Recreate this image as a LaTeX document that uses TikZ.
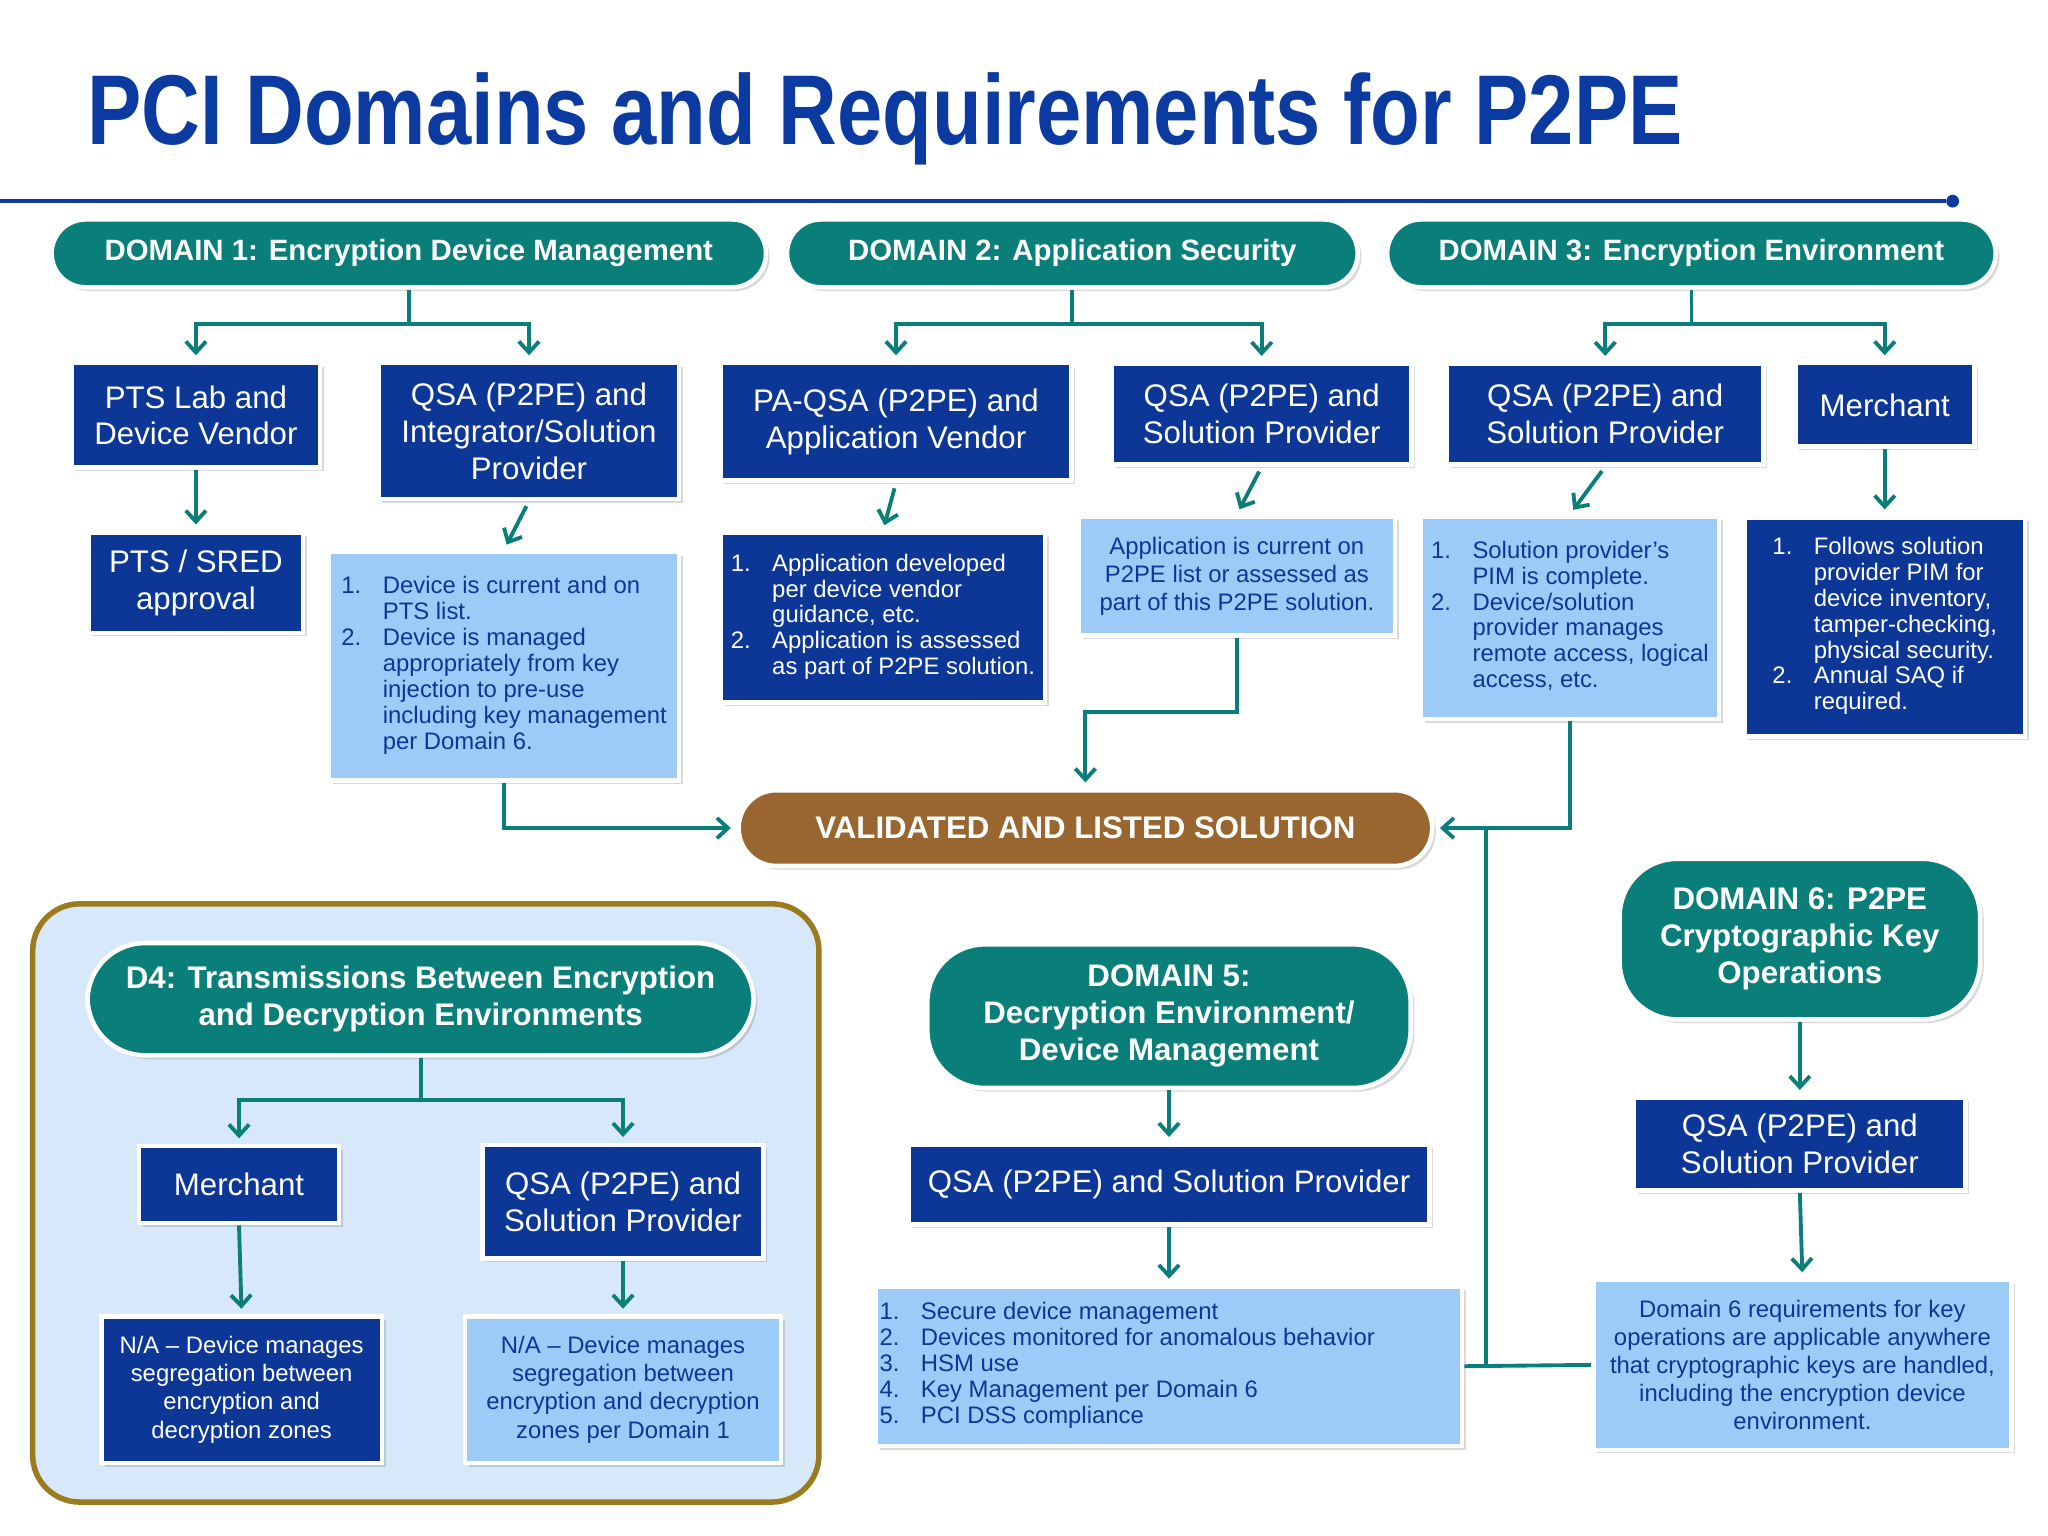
\documentclass[tikz,border=0pt]{standalone}
\usepackage{fontspec}
\setmainfont{Liberation Sans}
\usetikzlibrary{arrows.meta,shadows}
\definecolor{navy}{HTML}{0D3796}
\definecolor{sky}{HTML}{9CCBF7}
\definecolor{teal2}{HTML}{0A7F7A}
\definecolor{brown2}{HTML}{9A6630}
\definecolor{titleblue}{HTML}{0B3AA0}
\definecolor{pale}{HTML}{D7E8FB}
\definecolor{gold}{HTML}{9C7A1E}
\newcommand{\fs}[1]{\fontsize{#1}{1.18\dimexpr#1pt\relax}\selectfont}
\newcommand{\lst}[1]{\renewcommand\arraystretch{0.92}\begin{tabular}{@{}l@{\hspace{0.9em}}l@{}}#1\end{tabular}}

\begin{document}
\begin{tikzpicture}[x=0.025cm,y=-0.025cm,
  sz/.style 2 args={minimum width=#1*0.025cm, minimum height=#2*0.025cm},
  base/.style={draw=white, line width=2.5pt, inner sep=2pt, align=center,
    drop shadow={shadow xshift=2pt, shadow yshift=-2pt, opacity=0.3}},
  dark/.style={base, fill=navy, text=white, font=\fs{17}},
  light/.style={base, fill=sky, text=navy, font=\fs{13}},
  pill/.style={base, fill=teal2, text=white, font=\bfseries\fs{16}, rounded corners=0.65cm},
  bigpill/.style={pill, font=\bfseries\fs{17}, rounded corners=1.1cm},
  line/.style={draw=teal2, line width=2.1pt},
  arr/.style={line, -{Straight Barb[length=6pt,width=11pt]}, shorten >=3pt}]
\useasboundingbox (0,0) rectangle (1568,1176);

% title
\node[anchor=west, text=titleblue, font=\bfseries\fs{54}] (title) at (62,91)
  {\scalebox{0.82}[1]{PCI Domains and Requirements for P2PE}};
\coordinate (r0) at (0,154);
\node[circle, fill=titleblue, inner sep=0pt, minimum size=7pt] (dot) at (1495,154) {};
\draw[titleblue, line width=2.4pt] (r0) -- (dot);

% domain 1
\node[pill, sz={547}{52}] (d1) at (313,194) {DOMAIN 1: Encryption Device Management};
\node[dark, sz={190}{80}] (d1a) at (150,318) {PTS Lab and\\Device Vendor};
\node[dark, sz={230}{104}] (d1b) at (405,330) {QSA (P2PE) and\\Integrator/Solution\\Provider};
\node[dark, sz={164}{77}] (d1d) at (150,446) {PTS / SRED\\approval};
\node[light, sz={268}{175}, align=left] (d1c) at (386,510) {\lst{
  1. & Device is current and on\\ & PTS list.\\
  2. & Device is managed\\ & appropriately from key\\ & injection to pre-use\\
     & including key management\\ & per Domain 6.}};

% domain 2
\node[pill, sz={437}{52}] (d2) at (821,194) {DOMAIN 2: Application Security};
\node[dark, sz={269}{90}] (d2a) at (686,323) {PA-QSA (P2PE) and\\Application Vendor};
\node[dark, sz={229}{77}] (d2b) at (966,317) {QSA (P2PE) and\\Solution Provider};
\node[dark, sz={248}{130}, font=\fs{13}, align=left] (d2d) at (676,473) {\lst{
  1. & Application developed\\ & per device vendor\\ & guidance, etc.\\
  2. & Application is assessed\\ & as part of P2PE solution.}};
\node[light, sz={242}{91}] (d2c) at (947,441) {Application is current on\\P2PE list or assessed as\\part of this P2PE solution.};

% domain 3
\node[pill, sz={466}{52}] (d3) at (1295,194) {DOMAIN 3: Encryption Environment};
\node[dark, sz={242}{77}] (d3a) at (1229,317) {QSA (P2PE) and\\Solution Provider};
\node[dark, sz={137}{64}] (d3b) at (1443,310) {Merchant};
\node[light, sz={228}{155}, align=left] (d3c) at (1202,473) {\lst{
  1. & Solution provider’s\\ & PIM is complete.\\
  2. & Device/solution\\ & provider manages\\ & remote access, logical\\ & access, etc.}};
\node[dark, sz={215}{168}, font=\fs{13}, align=left] (d3d) at (1443,480) {\lst{
  1. & Follows solution\\ & provider PIM for\\ & device inventory,\\ & tamper-checking,\\ & physical security.\\
  2. & Annual SAQ if\\ & required.}};

% validated
\node[pill, fill=brown2, sz={531}{58}, font=\bfseries\fs{17}, rounded corners=0.72cm] (val) at (831,634) {VALIDATED AND LISTED SOLUTION};

% domain 4
\node[draw=gold, line width=3pt, fill=pale, rounded corners=0.9cm, sz={602}{458}] (d4box) at (326,921) {};
\node[bigpill, sz={510}{86}] (d4) at (322,765) {D4: Transmissions Between Encryption\\and Decryption Environments};
\node[dark, sz={153}{59}] (d4a) at (183,907) {Merchant};
\node[dark, sz={215}{87}] (d4b) at (477,920) {QSA (P2PE) and\\Solution Provider};
\node[dark, sz={215}{112}, font=\fs{13}] (d4c) at (185,1064) {N/A – Device manages\\segregation between\\encryption and\\decryption zones};
\node[light, sz={242}{112}] (d4d) at (477,1064) {N/A – Device manages\\segregation between\\encryption and decryption\\zones per Domain 1};

% domain 5
\node[bigpill, sz={370}{110}] (d5) at (895,778) {DOMAIN 5:\\Decryption Environment/\\Device Management};
\node[dark, sz={399}{61}] (d5a) at (895,907) {QSA (P2PE) and Solution Provider};
\node[light, sz={400}{122}, align=left] (d5c) at (895,1046) {\lst{
  1. & Secure device management\\ 2. & Devices monitored for anomalous behavior\\
  3. & HSM use\\ 4. & Key Management per Domain 6\\ 5. & PCI DSS compliance}\hspace*{1.6cm}};

% domain 6
\node[bigpill, sz={276}{123}] (d6) at (1378,719) {DOMAIN 6: P2PE\\Cryptographic Key\\Operations};
\node[dark, sz={254}{71}] (d6a) at (1378,876) {QSA (P2PE) and\\Solution Provider};
\node[light, sz={320}{130}] (d6c) at (1380,1045) {Domain 6 requirements for key\\operations are applicable anywhere\\that cryptographic keys are handled,\\including the encryption device\\environment.};

% connectors
\draw[line] (d1.south) -- (d1.south |- 0,248) coordinate (b1);
\draw[arr] (b1) -| (d1a.north);
\draw[arr] (b1) -| (d1b.north);
\draw[arr] (d1a.south) -- (d1d.north);
\draw[arr, shorten <=3pt] (d1b.south) -- (d1c.north);
\draw[line] (d2.south) -- (d2.south |- 0,248) coordinate (b2);
\draw[arr] (b2) -| (d2a.north);
\draw[arr] (b2) -| (d2b.north);
\draw[arr, shorten <=3pt] (d2a.south) -- (d2d.north);
\draw[arr, shorten <=3pt] (d2b.south) -- (d2c.north);
\draw[line] (d3.south) -- (d3.south |- 0,248) coordinate (b3);
\draw[arr] (b3) -| (d3a.north);
\draw[arr] (b3) -| (d3b.north);
\draw[arr, shorten <=3pt] (d3a.south) -- (d3c.north);
\draw[arr] (d3b.south) -- (d3d.north);
\draw[arr] (d1c.south) |- (val.west);
\draw[arr] (d2c.south) -- (d2c.south |- 0,545) -| (val.north);
\draw[arr] (d3c.south) |- (val.east);
\draw[line] (d4.south) -- (d4.south |- 0,842) coordinate (b4);
\draw[arr] (b4) -| (d4a.north);
\draw[arr] (b4) -| (d4b.north);
\draw[arr] (d4a.south) -- (d4c.north);
\draw[arr] (d4b.south) -- (d4d.north);
\draw[arr] (d5.south) -- (d5a.north);
\draw[arr] (d5a.south) -- (d5c.north);
\draw[arr] (d6.south) -- (d6a.north);
\draw[arr] (d6a.south) -- (d6c.north);
\coordinate (j) at (1138,634);
\draw[line] (d5c.east) -- (d6c.west);
\draw[line] (j) -- (j |- d5c.east);
\end{tikzpicture}
\end{document}
